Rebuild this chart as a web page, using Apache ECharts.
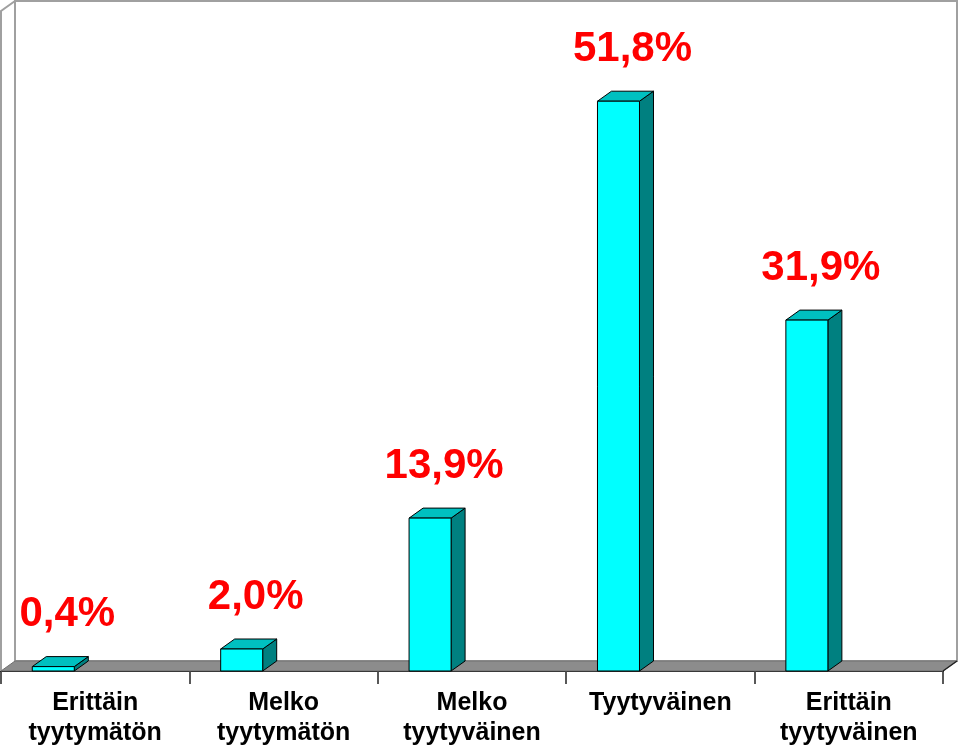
<!DOCTYPE html>
<html>
<head>
<meta charset="utf-8">
<script src="https://cdn.jsdelivr.net/npm/echarts@6/dist/echarts.min.js"></script>
<style>
html,body{margin:0;padding:0;background:#fff;}
#chart{width:960px;height:748px;}
</style>
</head>
<body>
<div id="chart"></div>
<script>
const categories = ['Erittäin\ntyytymätön', 'Melko\ntyytymätön', 'Melko\ntyytyväinen', 'Tyytyväinen', 'Erittäin\ntyytyväinen'];
const values = [0.4, 2.0, 13.9, 51.8, 31.9];
const yMin = 0;
const yMax = 60;

const chart = echarts.init(document.getElementById('chart'), null, {renderer: 'canvas'});
const FONT = '"Liberation Sans", Arial, sans-serif';
const DX = 14, DY = 10;

function fmt(v) { return v.toFixed(1).replace('.', ',') + '%'; }

chart.setOption({
  animation: false,
  backgroundColor: '#ffffff',
  grid: { left: 1, top: 11, width: 942, height: 660, containLabel: false },
  xAxis: {
    type: 'category',
    data: categories,
    boundaryGap: true,
    axisLine: { show: true, lineStyle: { color: '#000', width: 2 } },
    axisTick: { show: true, length: 13, lineStyle: { color: '#222', width: 1.5 } },
    axisLabel: { color: '#000', fontFamily: FONT, fontWeight: 'bold', fontSize: 25, lineHeight: 30, margin: 17, interval: 0 },
    splitLine: { show: false }
  },
  yAxis: {
    type: 'value', min: yMin, max: yMax, show: false, splitLine: { show: false }
  },
  series: [
    {
      type: 'custom',
      z: 1,
      silent: true,
      data: [0],
      renderItem: function (params, api) {
        const cs = params.coordSys;
        const x0 = cs.x, y0 = cs.y, w = cs.width, h = cs.height;
        const yb = y0 + h;
        const wallStyle = { stroke: '#a0a0a0', lineWidth: 2, fill: null };
        return {
          type: 'group',
          children: [
            { type: 'polygon', shape: { points: [[x0 + DX, y0 - DY], [x0 + w + DX, y0 - DY], [x0 + w + DX, yb - DY], [x0 + DX, yb - DY]] }, style: { fill: '#ffffff', stroke: '#a0a0a0', lineWidth: 2 } },
            { type: 'polyline', shape: { points: [[x0, yb], [x0, y0], [x0 + DX, y0 - DY]] }, style: wallStyle },
            { type: 'polygon', shape: { points: [[x0, yb], [x0 + w, yb], [x0 + w + DX, yb - DY], [x0 + DX, yb - DY]] }, style: { fill: '#8c8c8c', stroke: '#707070', lineWidth: 1 } },
            { type: 'line', shape: { x1: x0 + w, y1: yb, x2: x0 + w + DX, y2: yb - DY }, style: { stroke: '#222', lineWidth: 1.5 } }
          ]
        };
      }
    },
    {
      type: 'custom',
      z: 3,
      data: values.map((v, i) => [i, v]),
      encode: { x: 0, y: 1 },
      renderItem: function (params, api) {
        const idx = api.value(0);
        const val = api.value(1);
        const base = api.coord([idx, 0]);
        const topPt = api.coord([idx, val]);
        const bw = api.size([1, 0])[0];
        const left = base[0] - bw * 0.334;
        const w = bw * 0.223;
        const yb = base[1];
        const top = topPt[1];
        const edge = { stroke: '#000', lineWidth: 1 };
        return {
          type: 'group',
          children: [
            { type: 'polygon', shape: { points: [[left + w, top], [left + w + DX, top - DY], [left + w + DX, yb - DY], [left + w, yb]] }, style: Object.assign({ fill: '#008080' }, edge) },
            { type: 'polygon', shape: { points: [[left, top], [left + w, top], [left + w + DX, top - DY], [left + DX, top - DY]] }, style: Object.assign({ fill: '#00c0c0' }, edge) },
            { type: 'rect', shape: { x: left, y: top, width: w, height: yb - top }, style: Object.assign({ fill: '#00ffff' }, edge) },
            { type: 'text', style: { text: fmt(val), x: left + w / 2 + 14, y: top - DY - 42, align: 'center', verticalAlign: 'middle', fill: '#ff0000', font: 'bold 42px ' + FONT } }
          ]
        };
      }
    }
  ]
});
</script>
</body>
</html>
